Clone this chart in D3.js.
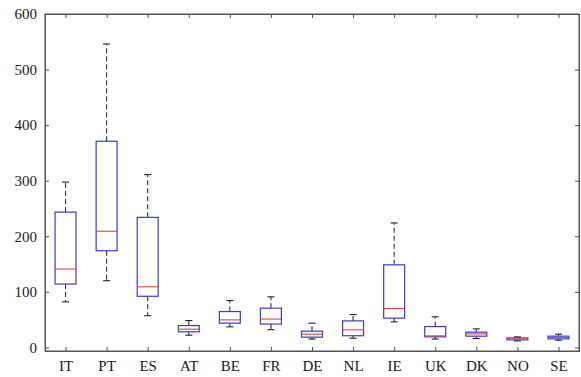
<!DOCTYPE html>
<html>
<head>
<meta charset="utf-8">
<script src="https://cdn.jsdelivr.net/npm/d3@7"></script>
<style>
  html, body { margin: 0; padding: 0; background: #fff; }
  svg { display: block; }
  svg text { font-family: "Liberation Serif", "DejaVu Serif", serif; }
</style>
</head>
<body>
<svg id="chart" width="581" height="377"></svg>
<script>
const categories = ["IT","PT","ES","AT","BE","FR","DE","NL","IE","UK","DK","NO","SE"];
const whiskerLow  = [82, 120, 57, 22, 37, 32, 15, 16.5, 46, 15, 16, 11.7, 13];
const q1          = [114, 174, 92, 28, 43.6, 42, 18.4, 21, 52.6, 19, 20.2, 13.5, 15.3];
const medians     = [141, 209, 109, 32.8, 49.5, 51, 23.8, 31.5, 70, 20.7, 24.3, 15.3, 17.7];
const q3          = [243.5, 371, 234, 39.3, 64.5, 70.6, 29.2, 47.7, 148.6, 37.5, 27.4, 17.1, 20.2];
const whiskerHigh = [297.5, 546, 311, 48.3, 84.3, 91, 43.6, 59, 224, 55, 33.3, 18.9, 23.8];
const yTicks = [0, 100, 200, 300, 400, 500, 600];

const svg = d3.select("#chart");
const mLeft = 45, mRight = 579, mTop = 14, mBottom = 351;

const x = d3.scalePoint().domain(categories).range([mLeft, mRight]).padding(0.5);
const y = d3.scaleLinear().domain([-6.5, 600]).range([mBottom, mTop]);
const step = x.step();
const boxW = step * 0.51;
const capW = 7;

const axisColor = "#555";
const font = "Liberation Serif";

// frame
svg.append("rect").attr("x", mLeft).attr("y", mTop)
  .attr("width", mRight - mLeft).attr("height", mBottom - mTop)
  .attr("fill", "none").attr("stroke", axisColor).attr("stroke-width", 1);

// axes
const gl = svg.append("g").attr("transform", `translate(${mLeft},0)`)
  .call(d3.axisLeft(y).tickValues(yTicks).tickSize(-4).tickPadding(8));
const gr = svg.append("g").attr("transform", `translate(${mRight},0)`)
  .call(d3.axisRight(y).tickValues(yTicks).tickSize(-4).tickFormat(""));
const gb = svg.append("g").attr("transform", `translate(0,${mBottom})`)
  .call(d3.axisBottom(x).tickSize(-4).tickPadding(9));
const gt = svg.append("g").attr("transform", `translate(0,${mTop})`)
  .call(d3.axisTop(x).tickSize(-4).tickFormat(""));

[gl, gr, gb, gt].forEach(g => {
  g.attr("font-family", font).attr("font-size", 15);
  g.select(".domain").attr("stroke", axisColor);
  g.selectAll(".tick line").attr("stroke", axisColor);
  g.selectAll(".tick text").attr("fill", "#1a1a1a");
});

const data = categories.map((c, i) => ({
  c, lo: whiskerLow[i], q1: q1[i], med: medians[i], q3: q3[i], hi: whiskerHigh[i]
}));

const g = svg.append("g");
const box = g.selectAll("g.box").data(data).join("g").attr("class", "box");

// whiskers (dashed)
box.append("line")
  .attr("x1", d => x(d.c)).attr("x2", d => x(d.c))
  .attr("y1", d => y(d.q3)).attr("y2", d => y(d.hi))
  .attr("stroke", "#333").attr("stroke-width", 1.1).attr("stroke-dasharray", "5,3");
box.append("line")
  .attr("x1", d => x(d.c)).attr("x2", d => x(d.c))
  .attr("y1", d => y(d.q1)).attr("y2", d => y(d.lo))
  .attr("stroke", "#333").attr("stroke-width", 1.1).attr("stroke-dasharray", "5,3");
// caps
box.append("line")
  .attr("x1", d => x(d.c) - capW / 2).attr("x2", d => x(d.c) + capW / 2)
  .attr("y1", d => y(d.hi)).attr("y2", d => y(d.hi))
  .attr("stroke", "#222").attr("stroke-width", 1.1);
box.append("line")
  .attr("x1", d => x(d.c) - capW / 2).attr("x2", d => x(d.c) + capW / 2)
  .attr("y1", d => y(d.lo)).attr("y2", d => y(d.lo))
  .attr("stroke", "#222").attr("stroke-width", 1.1);
// boxes
box.append("rect")
  .attr("x", d => x(d.c) - boxW / 2).attr("width", boxW)
  .attr("y", d => y(d.q3)).attr("height", d => y(d.q1) - y(d.q3))
  .attr("fill", "none").attr("stroke", "#3b3bd6").attr("stroke-width", 1.2);
// medians
box.append("line")
  .attr("x1", d => x(d.c) - boxW / 2).attr("x2", d => x(d.c) + boxW / 2)
  .attr("y1", d => y(d.med)).attr("y2", d => y(d.med))
  .attr("stroke", "#e8413a").attr("stroke-width", 1.1);
</script>
</body>
</html>
